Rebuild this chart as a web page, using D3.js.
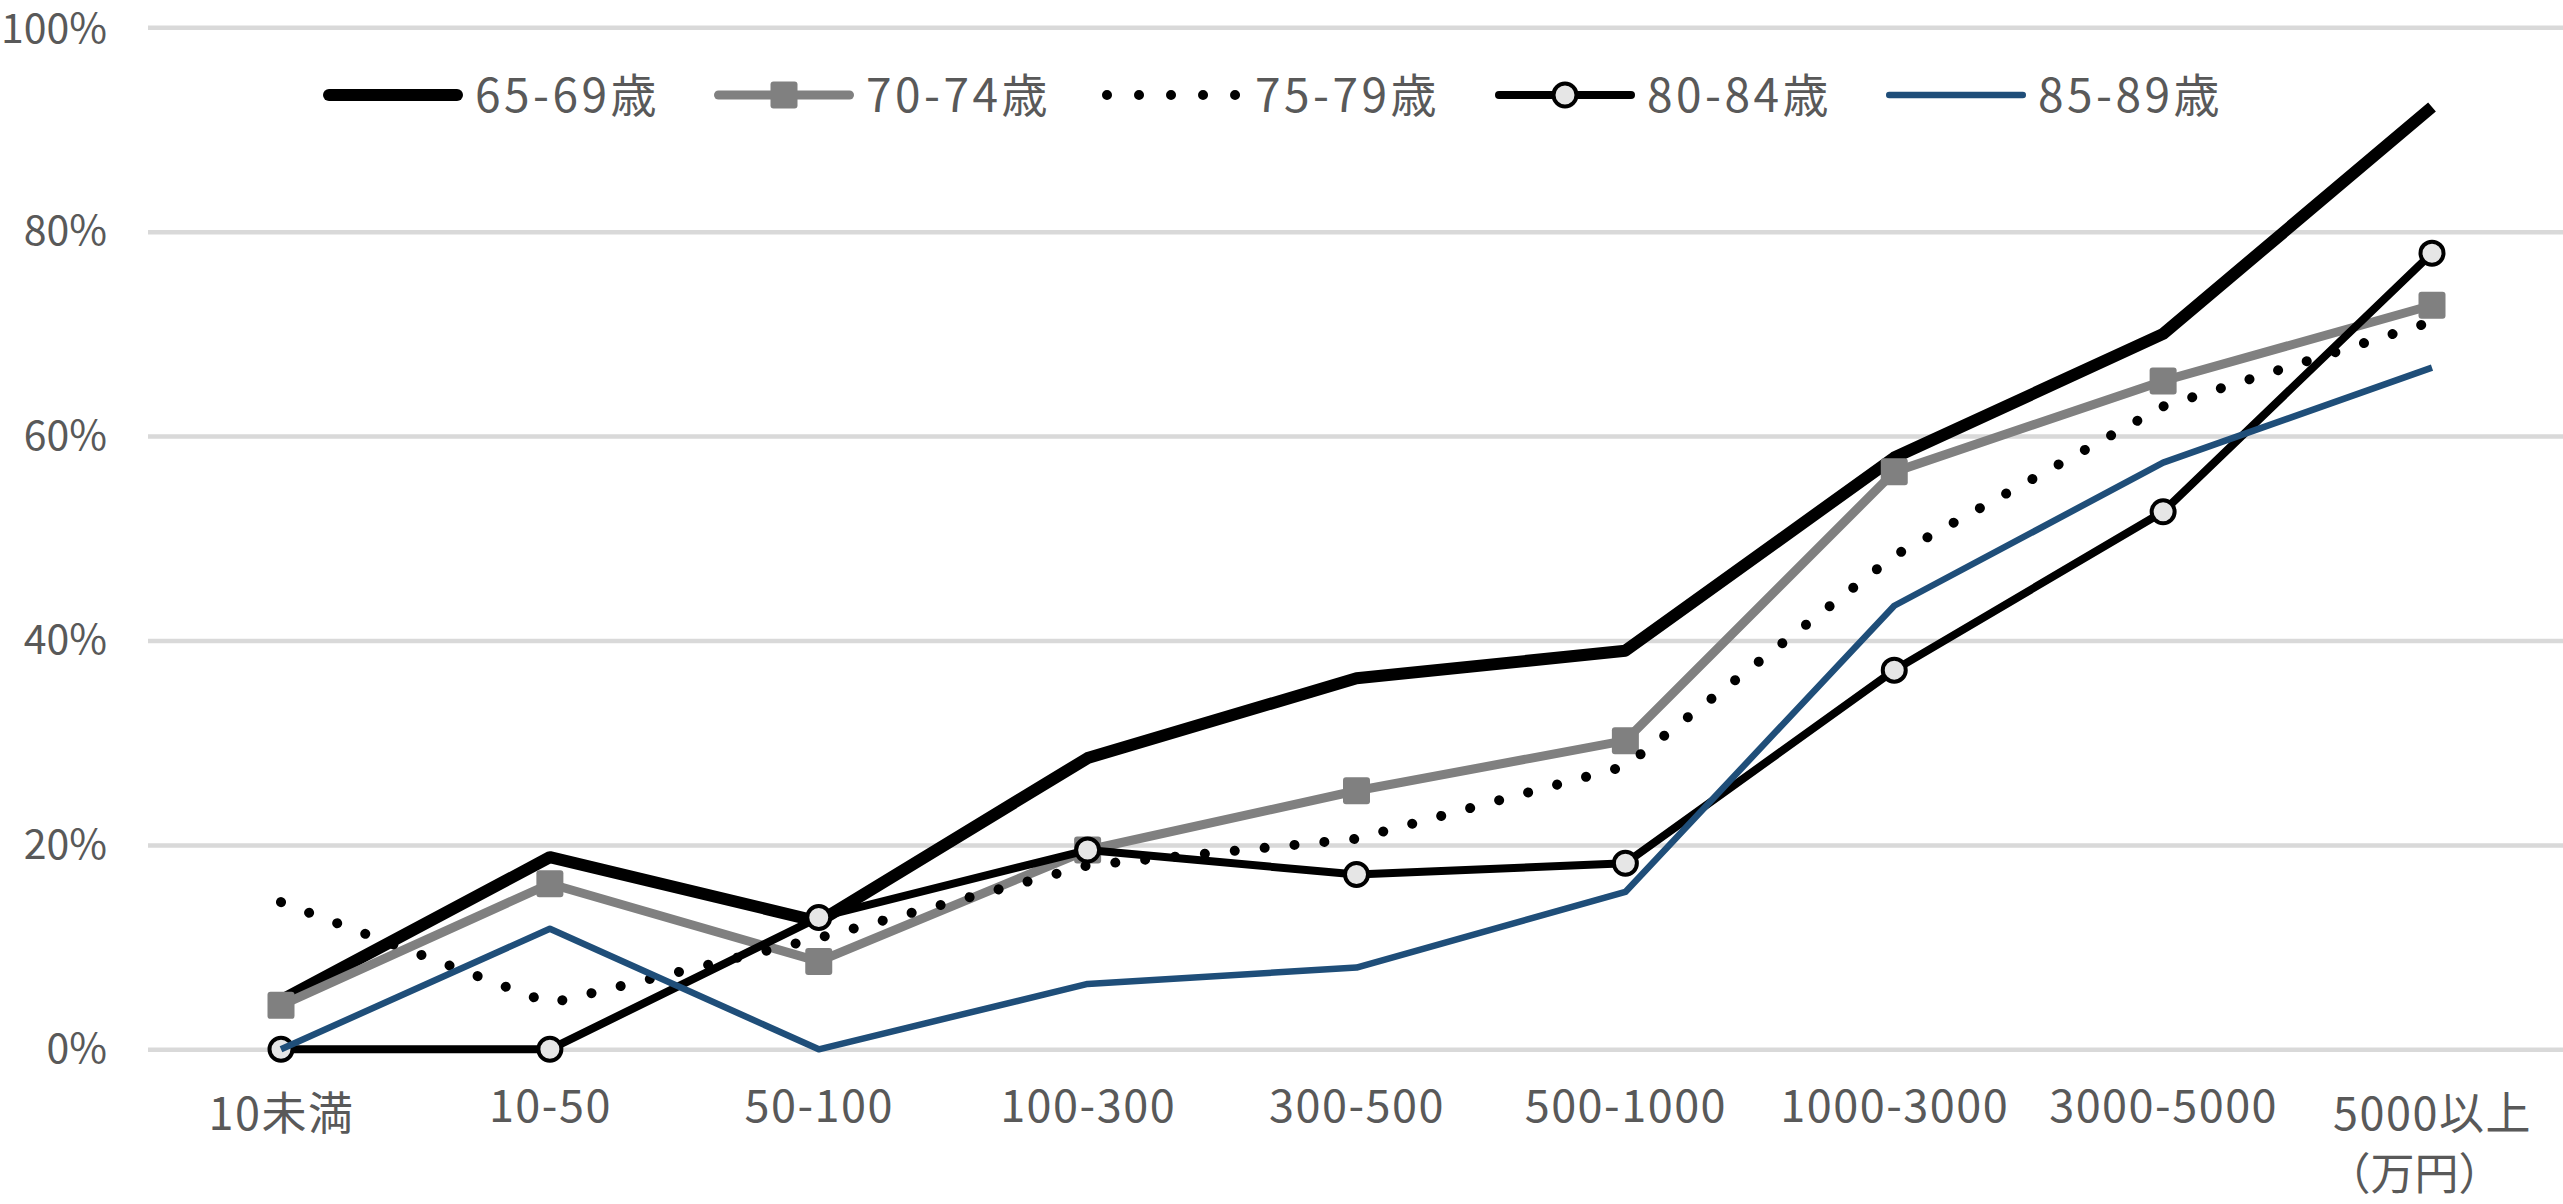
<!DOCTYPE html>
<html>
<head>
<meta charset="utf-8">
<script src="https://cdnjs.cloudflare.com/ajax/libs/d3/7.8.5/d3.min.js"></script>
<style>
  html, body { margin: 0; padding: 0; background: #fff; }
  svg { display: block; }
  text { font-family: "Noto Sans CJK JP", "Noto Sans", sans-serif; fill: #595959; }
</style>
</head>
<body>
<svg></svg>
<script>
// categories (資産額, 万円) and shares per age group
let categories = ["10未満", "10-50", "50-100", "100-300", "300-500", "500-1000", "1000-3000", "3000-5000", "5000以上"]
let seriesNames = ["65-69歳", "70-74歳", "75-79歳", "80-84歳", "85-89歳"]

let age6569 = [0.048, 0.188, 0.125, 0.285, 0.363, 0.390, 0.579, 0.700, 0.922]
let age7074 = [0.043, 0.162, 0.086, 0.195, 0.253, 0.302, 0.565, 0.654, 0.728]
let age7579 = [0.144, 0.045, 0.109, 0.180, 0.206, 0.277, 0.483, 0.629, 0.712]
let age8084 = [0.000, 0.000, 0.129, 0.195, 0.171, 0.182, 0.371, 0.526, 0.779]
let age8589 = [0.000, 0.118, 0.000, 0.064, 0.080, 0.154, 0.434, 0.574, 0.667]

let yTicks = [0, 0.2, 0.4, 0.6, 0.8, 1.0]

let width = 2563
let height = 1204

let svg = d3.select("svg")
  .attr("width", width)
  .attr("height", height)

let xScale = d3.scalePoint()
  .domain(categories)
  .range([281, 2432])

let yScale = d3.scaleLinear()
  .domain([0, 1])
  .range([1049.3, 27.3])

// y axis with gridlines
let yAxis = d3.axisLeft(yScale)
  .tickValues(yTicks)
  .tickFormat(d3.format(".0%"))
  .tickSize(-(width - 148))
  .tickPadding(41)

let yG = svg.append("g")
  .attr("transform", "translate(148,0)")
  .call(yAxis)
yG.select(".domain").remove()
yG.selectAll("line")
  .attr("stroke", "#d9d9d9")
  .attr("stroke-width", 4.5)
yG.selectAll("text")
  .attr("dy", (d) => d === 1 ? "0.36em" : "0.32em")
  .style("font-size", "41px")
  .style("font-family", "'Noto Sans CJK JP'")
  .attr("fill", "#595959")

// x axis labels
let xAxis = d3.axisBottom(xScale).tickSize(0)
let xG = svg.append("g")
  .attr("transform", "translate(0,1049.3)")
  .call(xAxis)
xG.select(".domain").remove()
xG.selectAll("text")
  .attr("dy", null)
  .attr("y", (d) => (d === "10未満" || d === "5000以上") ? 81 : 73)
  .style("font-size", "45px")
  .style("letter-spacing", "1.5px")
  .style("font-family", "'Noto Sans CJK JP'")
  .attr("fill", "#595959")
xG.selectAll(".tick")
  .filter((d) => d === "5000以上")
  .append("text")
  .attr("y", 141)
  .attr("x", -18)
  .attr("text-anchor", "middle")
  .style("font-size", "44px")
  .attr("fill", "#595959")
  .text("（万円）")

let series = [
  { name: seriesNames[0], values: age6569, color: "#000000", width: 12, dash: null, marker: null },
  { name: seriesNames[1], values: age7074, color: "#808080", width: 9, dash: null, marker: "square" },
  { name: seriesNames[2], values: age7579, color: "#000000", width: 10, dash: "0.01 30", marker: null },
  { name: seriesNames[3], values: age8084, color: "#000000", width: 8, dash: null, marker: "circle" },
  { name: seriesNames[4], values: age8589, color: "#1f4e79", width: 6.5, dash: null, marker: null }
]

let line = d3.line()
  .x((d, i) => xScale(categories[i]))
  .y((d) => yScale(d))

let drawMarker = (g, type, x, y) => {
  if (type === "square") {
    g.append("rect")
      .attr("x", x - 13.5)
      .attr("y", y - 13.5)
      .attr("width", 27)
      .attr("height", 27)
      .attr("rx", 3)
      .attr("fill", "#808080")
  } else if (type === "circle") {
    g.append("circle")
      .attr("cx", x)
      .attr("cy", y)
      .attr("r", 11.5)
      .attr("fill", "#e6e6e6")
      .attr("stroke", "#000")
      .attr("stroke-width", 4)
  }
}

series.forEach((s) => {
  let g = svg.append("g")
  g.append("path")
    .datum(s.values)
    .attr("d", line)
    .attr("fill", "none")
    .attr("stroke", s.color)
    .attr("stroke-width", s.width)
    .attr("stroke-linejoin", "round")
    .attr("stroke-linecap", s.dash ? "round" : "butt")
    .attr("stroke-dasharray", s.dash)
  if (s.marker) {
    s.values.forEach((v, i) => {
      drawMarker(g, s.marker, xScale(categories[i]), yScale(v))
    })
  }
})

// legend
let legendX = [323, 714, 1103, 1495, 1886]
let legendY = 95
let legend = svg.append("g")
series.forEach((s, i) => {
  let x0 = legendX[i]
  let g = legend.append("g")
  if (s.dash) {
    g.append("line")
      .attr("x1", x0 + 4).attr("x2", x0 + 134)
      .attr("y1", legendY).attr("y2", legendY)
      .attr("stroke", s.color)
      .attr("stroke-width", s.width)
      .attr("stroke-linecap", "round")
      .attr("stroke-dasharray", "0.01 32")
  } else {
    g.append("line")
      .attr("x1", x0 + s.width / 2).attr("x2", x0 + 140 - s.width / 2)
      .attr("y1", legendY).attr("y2", legendY)
      .attr("stroke", s.color)
      .attr("stroke-width", s.width)
      .attr("stroke-linecap", "round")
  }
  if (s.marker) drawMarker(g, s.marker, x0 + 70, legendY)
  g.append("text")
    .attr("x", x0 + 152)
    .attr("y", legendY + 17)
    .style("font-size", "46px")
    .style("letter-spacing", "3.5px")
    .attr("fill", "#595959")
    .text(s.name)
})
</script>
</body>
</html>
